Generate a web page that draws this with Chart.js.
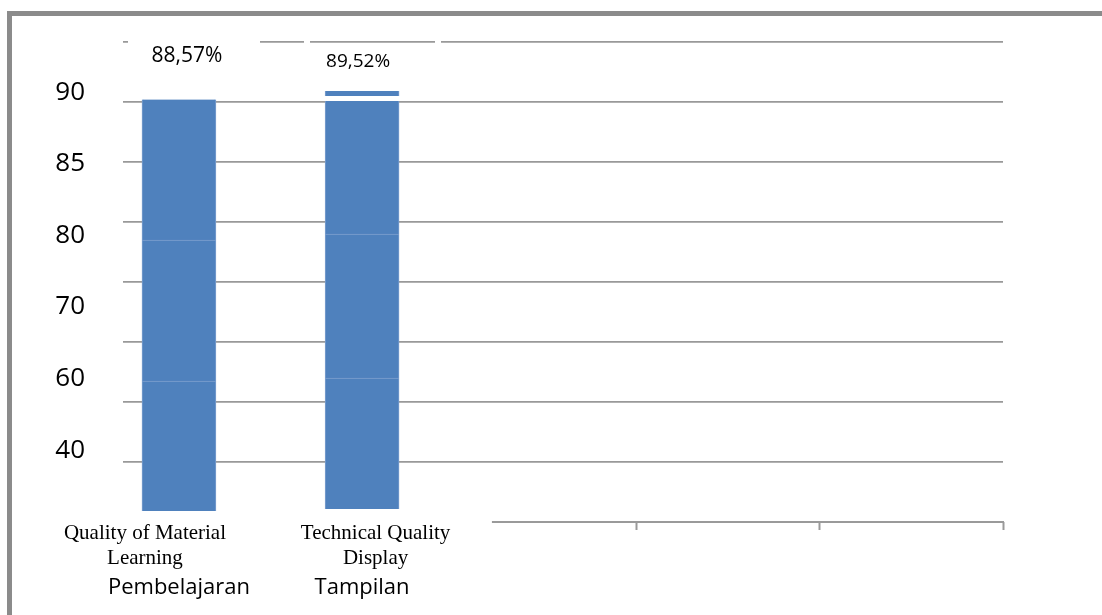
<!DOCTYPE html>
<html>
<head>
<meta charset="utf-8">
<script src="https://cdn.jsdelivr.net/npm/chart.js@4/dist/chart.umd.min.js"></script>
<style>
  html, body { margin: 0; padding: 0; background: #fff; overflow: hidden; }
  #wrap { width: 1102px; height: 615px; position: relative; }
</style>
</head>
<body>
<div id="wrap"><canvas id="c" width="1102" height="615"></canvas></div>
<script>
// Categories (Indonesian axis labels) and their English translations
const categories = ['Pembelajaran', 'Tampilan'];
const categoryTranslations = [['Quality of Material', 'Learning'], ['Technical Quality', 'Display']];

// Percentage scores written above the bars
const percentValues = [88.57, 89.52];

// Stacked bar pieces (value-axis units)
const barBase   = [42.63, 42.85];
const lowerTop  = [57.15, 57.48];
const middleTop = [72.89, 73.56];
const bodyTop   = [88.57, 88.41];
const capBottom = [null, 88.97];

// Left axis labels and grid steps
const yTickLabels = ['90', '85', '80', '70', '60', '40'];
const gridSteps = [1, 2, 3, 4, 5, 6, 7, 8];
const bottomTicks = [2.5, 3.5, 4.5];

const BLUE = '#4f81bd';
const EDGE = '#7ea1cf';

function piece(lo, hi, border) {
  const data = [];
  categories.forEach((c, i) => {
    if (lo[i] != null && hi[i] != null) data.push({ x: i, y: [lo[i], hi[i]] });
  });
  return {
    data,
    backgroundColor: BLUE,
    borderColor: EDGE,
    borderWidth: border,
    borderSkipped: false,
    barThickness: 74,
    grouped: false,
    xAxisID: 'x',
    yAxisID: 'y'
  };
}

const capTop = percentValues.map((v, i) => capBottom[i] == null ? null : v);

const datasets = [
  piece(barBase, lowerTop, { top: 1, left: 1, right: 1 }),
  piece(lowerTop, middleTop, { top: 1, left: 1, right: 1 }),
  piece(middleTop, bodyTop, { left: 1, right: 1 }),
  piece(capBottom, capTop, { left: 1, right: 1 })
];

// keep axis label overhang from pushing the plot area around
function noPad(s) {
  s.paddingTop = 0; s.paddingBottom = 0; s.paddingLeft = 0; s.paddingRight = 0;
}

const decor = {
  id: 'decor',
  beforeDraw(chart) {
    const ctx = chart.ctx;
    ctx.save();
    ctx.fillStyle = '#fff';
    ctx.fillRect(0, 0, chart.width, chart.height);
    // page frame
    ctx.fillStyle = '#8b8b8b';
    ctx.fillRect(7, 11, chart.width - 7, 5);
    ctx.fillRect(7, 11, 5, chart.height - 11);
    ctx.restore();
  },
  beforeDatasetsDraw(chart, args, opts) {
    const ctx = chart.ctx;
    const area = chart.chartArea;
    ctx.save();
    // breaks in the top grid line
    ctx.fillStyle = '#fff';
    opts.topLineGaps.forEach(([a, b]) => ctx.fillRect(a, area.top - 2, b - a, 4));
    // bottom axis line (right part only)
    const xs = chart.scales.x;
    ctx.strokeStyle = '#9a9a9a';
    ctx.lineWidth = 2;
    ctx.beginPath();
    ctx.moveTo(xs.getPixelForValue(opts.axisFrom), area.bottom);
    ctx.lineTo(area.right + 1, area.bottom);
    ctx.stroke();
    ctx.restore();
  },
  afterDatasetsDraw(chart, args, opts) {
    const ctx = chart.ctx;
    const xs = chart.scales.x, ys = chart.scales.y;
    const area = chart.chartArea;
    ctx.save();
    ctx.fillStyle = '#000';
    ctx.textAlign = 'center';
    // value labels
    ctx.textBaseline = 'middle';
    percentValues.forEach((v, i) => {
      const o = opts.valueLabels[i];
      ctx.font = o.size + 'px "Open Sans"';
      const txt = v.toFixed(2).replace('.', ',') + '%';
      ctx.fillText(txt, xs.getPixelForValue(i) + o.dx, ys.getPixelForValue(v) + o.dy);
    });
    // English category captions
    ctx.textBaseline = 'alphabetic';
    ctx.font = '21px "Liberation Serif"';
    categoryTranslations.forEach((lines, i) => {
      const cx = xs.getPixelForValue(i) + opts.translationDx[i];
      lines.forEach((ln, j) => ctx.fillText(ln, cx, area.bottom + 17 + 25 * j));
    });
    ctx.restore();
  }
};

new Chart(document.getElementById('c'), {
  type: 'bar',
  data: { datasets },
  plugins: [decor],
  options: {
    responsive: false,
    animation: false,
    devicePixelRatio: 1,
    layout: { padding: { top: 42, right: 99, bottom: 0, left: 0 } },
    plugins: {
      legend: { display: false },
      tooltip: { enabled: false },
      decor: {
        topLineGaps: [[128, 260], [304, 310], [435, 441]],
        axisFrom: 1.709,
        valueLabels: [
          { dx: 8, dy: -44, size: 21 },
          { dx: -4, dy: -29, size: 19 }
        ],
        translationDx: [-34, 13.5]
      }
    },
    scales: {
      x: {
        type: 'linear',
        position: 'bottom',
        min: -0.3056,
        max: 4.5,
        offset: false,
        grid: {
          offset: false,
          drawOnChartArea: false,
          drawTicks: true,
          tickLength: 8,
          tickWidth: 2,
          tickColor: ctx => (ctx.tick && ctx.tick.value > 2) ? '#9a9a9a' : 'rgba(0,0,0,0)'
        },
        border: { display: false },
        ticks: {
          autoSkip: false,
          maxRotation: 0,
          minRotation: 0,
          padding: 45,
          color: '#000',
          font: { family: 'Open Sans', size: 22 },
          callback: v => (Number.isInteger(v) && categories[v] !== undefined) ? categories[v] : ''
        },
        afterBuildTicks: s => {
          s.ticks = categories.map((c, i) => i).concat(bottomTicks).map(v => ({ value: v }));
        },
        afterFit: s => { s.height = 93; noPad(s); }
      },
      yLabel: {
        type: 'linear',
        position: 'left',
        reverse: true,
        min: -0.7,
        max: 6.0,
        grid: { display: false, drawTicks: false },
        border: { display: false },
        ticks: {
          padding: 38,
          color: '#000',
          font: { family: 'Open Sans', size: 26 },
          callback: v => yTickLabels[v] !== undefined ? yTickLabels[v] : ''
        },
        afterBuildTicks: s => { s.ticks = yTickLabels.map((t, i) => ({ value: i })); },
        afterFit: s => { s.width = 123; noPad(s); }
      },
      yGrid: {
        type: 'linear',
        position: 'left',
        min: 0,
        max: 8,
        grid: { color: '#999', lineWidth: 1.8, drawTicks: false },
        border: { display: false },
        ticks: { display: false },
        afterBuildTicks: s => { s.ticks = gridSteps.map(v => ({ value: v })); },
        afterFit: s => { s.width = 0; noPad(s); }
      },
      y: {
        type: 'linear',
        display: false,
        min: 41.4,
        max: 95.0
      }
    }
  }
});
</script>
</body>
</html>
